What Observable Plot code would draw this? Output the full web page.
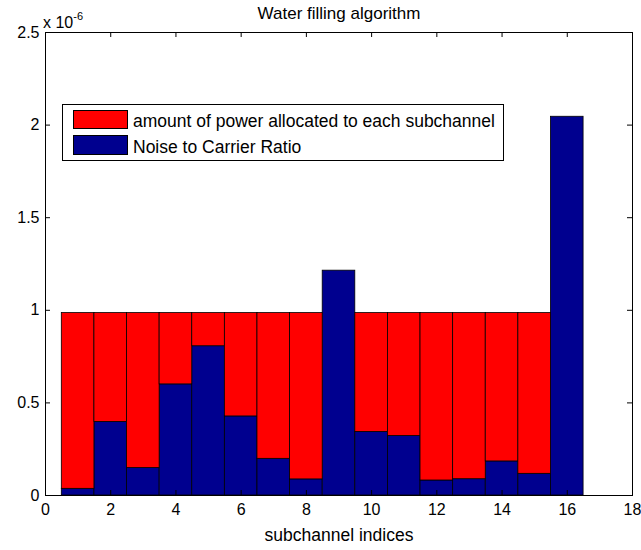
<!DOCTYPE html>
<html>
<head>
<meta charset="utf-8">
<script src="https://cdn.jsdelivr.net/npm/d3@7"></script>
<script src="https://cdn.jsdelivr.net/npm/@observablehq/plot@0.6"></script>
<style>
  body { margin: 0; background: #fff; font-family: "Liberation Sans", Arial, sans-serif; }
  #wrap { position: relative; width: 641px; height: 550px; }
  #mult { position: absolute; left: 43px; top: 9px; font-size: 16px; line-height: 18px; color: #000; white-space: nowrap; }
  #mult sup { font-size: 11px; position: relative; top: -2px; }
  #legend { position: absolute; left: 62px; top: 104px; width: 442px; height: 57px; border: 1px solid #000; box-sizing: border-box; background: #fff; }
  .item { position: absolute; left: 10px; height: 20px; line-height: 20px; font-size: 17.5px; color: #000; white-space: nowrap; }
  .sw { position: absolute; left: 0; width: 55px; height: 19px; border: 1px solid #000; box-sizing: border-box; }
  .lab { position: absolute; left: 60px; top: 0; }
</style>
</head>
<body>
<div id="wrap">
  <div id="chart"></div>
  <div id="mult">x 10<sup>-6</sup></div>
  <div id="legend"></div>
</div>
<script>
// Data (values in units of 10^-6)
const channels = [1, 2, 3, 4, 5, 6, 7, 8, 9, 10, 11, 12, 13, 14, 15, 16];
const noise = [0.036, 0.397, 0.148, 0.600, 0.806, 0.427, 0.198, 0.087, 1.214, 0.343, 0.321, 0.081, 0.088, 0.184, 0.117, 2.045];
const power = [0.949, 0.588, 0.837, 0.385, 0.179, 0.558, 0.787, 0.898, 0, 0.642, 0.664, 0.904, 0.897, 0.801, 0.868, 0];
const seriesNames = ["amount of power allocated to each subchannel", "Noise to Carrier Ratio"];
const seriesColors = ["#ff0000", "#00008f"];
const xTicks = [0, 2, 4, 6, 8, 10, 12, 14, 16, 18];
const yTicks = [0, 0.5, 1, 1.5, 2, 2.5];
const yTickLabels = ["0", "0.5", "1", "1.5", "2", "2.5"];
const titleText = "Water filling algorithm";
const xLabel = "subchannel indices";

const rows = channels.map((c, i) => ({channel: c, noise: noise[i], power: power[i]}));

const W = 641, H = 550;
const mT = 32, mR = 9, mB = 55, mL = 45;
const plotW = W - mL - mR, plotH = H - mT - mB;

const chart = Plot.plot({
  width: W,
  height: H,
  marginTop: mT, marginRight: mR, marginBottom: mB, marginLeft: mL,
  style: {fontFamily: "'Liberation Sans', Arial, sans-serif", background: "#fff", color: "#000"},
  x: {domain: [0, 18]},
  y: {domain: [0, 2.5]},
  marks: [
    Plot.rectY(rows, {
      x1: d => d.channel - 0.5, x2: d => d.channel + 0.5,
      y1: 0, y2: "noise",
      fill: seriesColors[1], stroke: "#000", strokeWidth: 0.8
    }),
    Plot.rectY(rows.filter(d => d.power > 0), {
      x1: d => d.channel - 0.5, x2: d => d.channel + 0.5,
      y1: "noise", y2: d => d.noise + d.power,
      fill: seriesColors[0], stroke: "#000", strokeWidth: 0.8
    }),
    Plot.frame({stroke: "#000", strokeWidth: 1}),
    Plot.tickX(xTicks, {x: d => d, insetTop: plotH - 5, stroke: "#000"}),
    Plot.tickX(xTicks, {x: d => d, insetBottom: plotH - 5, stroke: "#000"}),
    Plot.tickY(yTicks, {y: d => d, insetRight: plotW - 5, stroke: "#000"}),
    Plot.tickY(yTicks, {y: d => d, insetLeft: plotW - 5, stroke: "#000"}),
    Plot.axisX(xTicks, {tickSize: 0, tickPadding: 8, fontSize: 16, label: null}),
    Plot.axisY(yTicks, {tickSize: 0, tickPadding: 6, fontSize: 16, label: null,
      tickFormat: d => yTickLabels[yTicks.indexOf(d)]}),
    Plot.text([titleText], {frameAnchor: "top", lineAnchor: "bottom", dy: -14, fontSize: 17, fill: "#000"}),
    Plot.text([xLabel], {frameAnchor: "bottom", lineAnchor: "bottom", dy: 45, fontSize: 17.5, fill: "#000"})
  ]
});
document.getElementById("chart").appendChild(chart);

const legend = document.getElementById("legend");
const itemTops = [6, 32];
seriesNames.forEach((name, i) => {
  const item = document.createElement("div");
  item.className = "item";
  item.style.top = itemTops[i] + "px";
  const sw = document.createElement("div");
  sw.className = "sw";
  sw.style.background = seriesColors[i];
  sw.style.top = (i === 0 ? -1 : -2) + "px";
  sw.style.height = (i === 0 ? 19 : 20) + "px";
  const lab = document.createElement("span");
  lab.className = "lab";
  lab.textContent = name;
  item.appendChild(sw);
  item.appendChild(lab);
  legend.appendChild(item);
});
</script>
</body>
</html>
